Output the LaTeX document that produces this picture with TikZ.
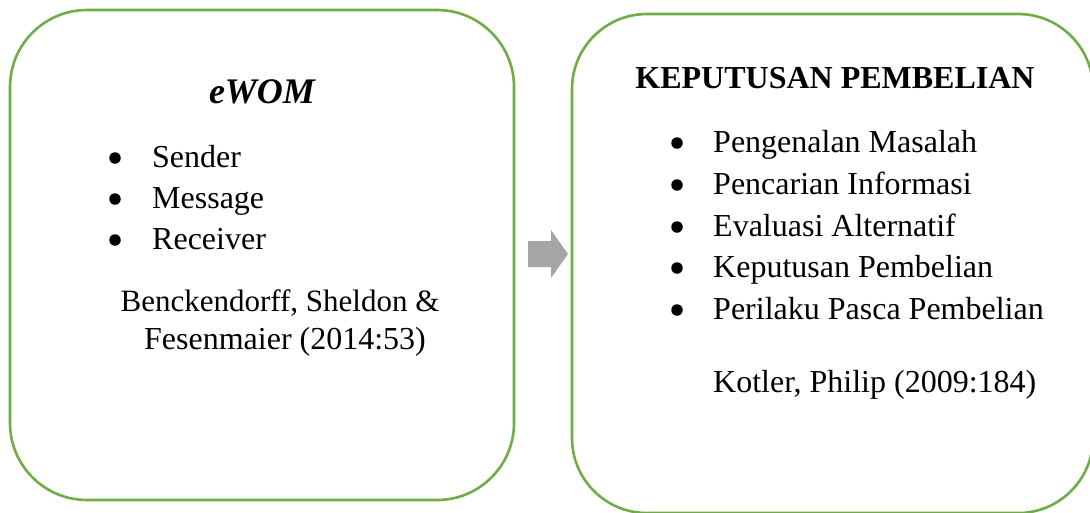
\documentclass[tikz,border=0pt]{standalone}
\usepackage{fontspec}
\setmainfont{Liberation Serif}
\definecolor{boxgreen}{HTML}{70AD47}
\definecolor{arrowgray}{HTML}{A5A5A5}
\begin{document}
\begin{tikzpicture}[x=1pt,y=-1pt,
  panel/.style={draw=boxgreen,line width=2.6pt},
  bodytext/.style={inner sep=0pt,anchor=base west,font=\fontsize{32}{38}\selectfont},
  centertext/.style={inner sep=0pt,anchor=base,font=\fontsize{32}{38}\selectfont},
  dot/.style={circle,fill=black,inner sep=0pt,minimum size=11.5pt}]
\useasboundingbox (0,0) rectangle (1090,512);
\clip (0,0) rectangle (1090,512);
% boxes
\draw[panel,rounded corners=77pt] (10,10) rectangle (514,500);
\draw[panel,rounded corners=75pt] (572,14) rectangle (1093,513);
% arrow
\fill[arrowgray] (528,241) -- (551,241) -- (551,230) -- (568,254) -- (551,278) -- (551,267) -- (528,267) -- cycle;
% left box
\node[centertext,font=\fontsize{36}{42}\selectfont\bfseries\itshape] (ewom) at (262,103) {eWOM};
\node[dot] (b1) at (115,158) {};
\node[dot] (b2) at (115,199) {};
\node[dot] (b3) at (115,240) {};
\node[bodytext] (l1) at (152,167) {Sender};
\node[bodytext] (l2) at (152,208) {Message};
\node[bodytext] (l3) at (152,249) {Receiver};
\node[centertext,font=\fontsize{31}{38}\selectfont] (c1) at (280,311) {Benckendorff, Sheldon \&};
\node[centertext] (c2) at (285,349) {Fesenmaier (2014:53)};
% right box
\node[centertext,font=\fontsize{32}{38}\selectfont\bfseries] (kp) at (835,88) {KEPUTUSAN PEMBELIAN};
\foreach \y/\t [count=\i] in {152/Pengenalan Masalah,194/Pencarian Informasi,236/Evaluasi Alternatif,277/Keputusan Pembelian,319/Perilaku Pasca Pembelian}{
  \node[dot] (rb\i) at (677,\y-9) {};
  \node[bodytext] (r\i) at (713,\y) {\t};
}
\node[bodytext] (kot) at (713,392) {Kotler, Philip (2009:184)};
\end{tikzpicture}
\end{document}
